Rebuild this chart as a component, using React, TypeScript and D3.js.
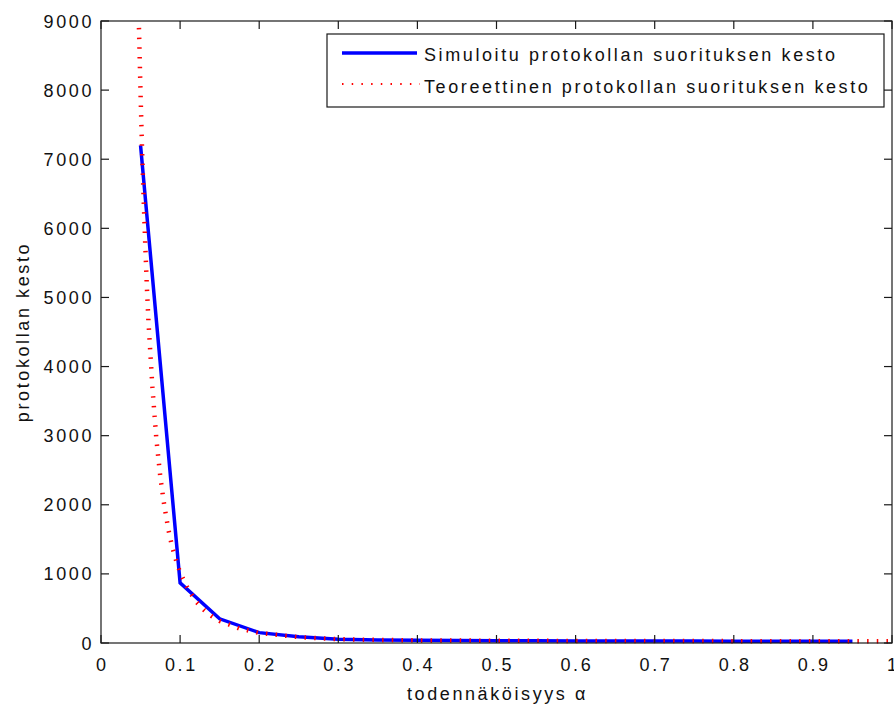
import React, { useEffect, useRef } from 'react'
import * as d3 from 'd3'

// simuloitu kesto, alpha = 0.05 ... 0.95
const alphaSim = [0.05, 0.1, 0.15, 0.2, 0.25, 0.3, 0.35, 0.4, 0.45, 0.5, 0.55, 0.6, 0.65, 0.7, 0.75, 0.8, 0.85, 0.9, 0.95]
const kestoSim = [7200, 870, 350, 150, 92, 55, 45, 38, 35, 33, 31, 30, 29, 28, 28, 27, 27, 26, 26]

// teoreettinen kesto (luettu kuvasta)
const alphaTeor = [0.048, 0.05, 0.052, 0.054, 0.056, 0.058, 0.06, 0.065, 0.07, 0.075, 0.08, 0.085, 0.09, 0.095, 0.1,
  0.11, 0.12, 0.13, 0.14, 0.15, 0.175, 0.2, 0.25, 0.3, 0.35, 0.4, 0.5, 0.6, 0.7, 0.8, 0.9, 1.0]
const kestoTeor = [8900, 7950, 7100, 6400, 5750, 5150, 4650, 3700, 2950, 2400, 1990, 1650, 1390, 1190, 1020,
  780, 600, 480, 390, 320, 210, 145, 85, 55, 45, 38, 33, 30, 28, 27, 26, 26]

const xTicks = [0, 0.1, 0.2, 0.3, 0.4, 0.5, 0.6, 0.7, 0.8, 0.9, 1]
const xTickLabels = ['0', '0.1', '0.2', '0.3', '0.4', '0.5', '0.6', '0.7', '0.8', '0.9', '1']
const yTicks = [0, 1000, 2000, 3000, 4000, 5000, 6000, 7000, 8000, 9000]

const legendLabels = ['Simuloitu protokollan suorituksen kesto', 'Teoreettinen protokollan suorituksen kesto']

const W = 894
const H = 707
const FONT = '"Liberation Sans", Arial, Helvetica, sans-serif'

const App = () => {
  const ref = useRef<SVGSVGElement>(null)

  useEffect(() => {
    const svg = d3.select(ref.current)
    svg.selectAll('*').remove()

    const x = d3.scaleLinear().domain([0, 1]).range([101, 892])
    const y = d3.scaleLinear().domain([0, 9000]).range([643, 21])
    const [x0, x1] = x.range()
    const [y0, y1] = y.range()

    svg.append('rect').attr('width', W).attr('height', H).attr('fill', 'white')

    const line = d3.line<[number, number]>().x(d => x(d[0])).y(d => y(d[1]))

    const plot = svg.append('g')
    plot.append('path')
      .datum(alphaSim.map((a, i) => [a, kestoSim[i]] as [number, number]))
      .attr('d', line)
      .attr('fill', 'none')
      .attr('stroke', '#0000ff')
      .attr('stroke-width', 3.5)
    plot.append('path')
      .datum(alphaTeor.map((a, i) => [a, kestoTeor[i]] as [number, number]))
      .attr('d', line)
      .attr('fill', 'none')
      .attr('stroke', '#ff0000')
      .attr('stroke-width', 4.5)
      .attr('stroke-dasharray', '1.5,8.2')

    // axes box + ticks (inward, all sides)
    const ax = svg.append('g').attr('stroke', '#1a1a1a').attr('stroke-width', 1.2).attr('fill', 'none')
    ax.append('rect').attr('x', x0).attr('y', y1).attr('width', x1 - x0).attr('height', y0 - y1)
    const tl = 8
    xTicks.forEach(t => {
      ax.append('line').attr('x1', x(t)).attr('x2', x(t)).attr('y1', y0).attr('y2', y0 - tl)
      ax.append('line').attr('x1', x(t)).attr('x2', x(t)).attr('y1', y1).attr('y2', y1 + tl)
    })
    yTicks.forEach(t => {
      ax.append('line').attr('x1', x0).attr('x2', x0 + tl).attr('y1', y(t)).attr('y2', y(t))
      ax.append('line').attr('x1', x1).attr('x2', x1 - tl).attr('y1', y(t)).attr('y2', y(t))
    })

    const txt = svg.append('g')
      .attr('font-family', FONT)
      .attr('font-size', 18)
      .attr('letter-spacing', 2.6)
      .attr('fill', '#111')

    txt.selectAll('.xt')
      .data(xTicks)
      .join('text')
      .attr('x', d => x(d) + 1.3)
      .attr('y', 671)
      .attr('text-anchor', 'middle')
      .text((d, i) => xTickLabels[i])

    txt.selectAll('.yt')
      .data(yTicks)
      .join('text')
      .attr('x', 94)
      .attr('y', d => y(d) + 6.5)
      .attr('text-anchor', 'end')
      .text(d => String(d))

    const xl = txt.append('text')
      .attr('x', (x0 + x1) / 2 + 1)
      .attr('y', 700)
      .attr('text-anchor', 'middle')
    xl.append('tspan').text('todennäköisyys ')
    xl.append('tspan').text('α')

    txt.append('text')
      .attr('transform', `translate(29,${(y0 + y1) / 2}) rotate(-90)`)
      .attr('text-anchor', 'middle')
      .text('protokollan kesto')

    // legend
    const lg = svg.append('g')
    lg.append('rect')
      .attr('x', 327).attr('y', 34).attr('width', 884 - 327).attr('height', 107 - 34)
      .attr('fill', 'white').attr('stroke', '#1a1a1a').attr('stroke-width', 1.2)
    lg.append('line')
      .attr('x1', 342).attr('x2', 417).attr('y1', 53).attr('y2', 53)
      .attr('stroke', '#0000ff').attr('stroke-width', 3.5)
    lg.append('line')
      .attr('x1', 342).attr('x2', 420).attr('y1', 84).attr('y2', 84)
      .attr('stroke', '#ff0000').attr('stroke-width', 2)
      .attr('stroke-dasharray', '1.5,8.2')
    lg.selectAll('text')
      .data(legendLabels)
      .join('text')
      .attr('x', 424)
      .attr('y', (d, i) => 61 + i * 32)
      .attr('font-family', FONT)
      .attr('font-size', 18)
      .attr('letter-spacing', 2.6)
      .attr('fill', '#111')
      .text(d => d)
  }, [])

  return (
    <div style={{ position: 'absolute', left: 0, top: 0 }}>
      <svg ref={ref} width={W} height={H} style={{ display: 'block' }} />
    </div>
  )
}

export default App
